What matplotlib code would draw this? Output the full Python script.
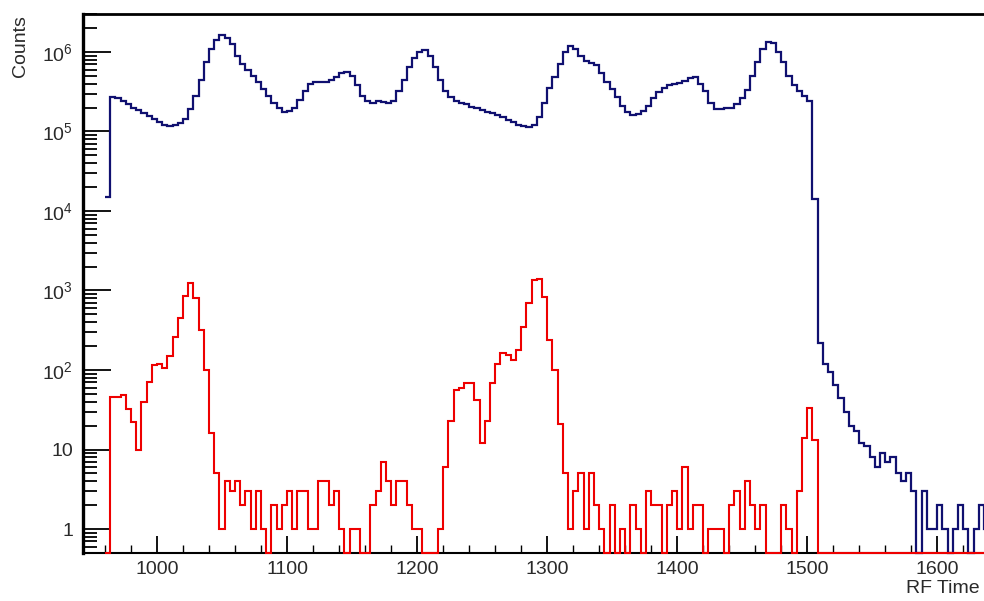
import numpy as np
import matplotlib
matplotlib.use("Agg")
import matplotlib.pyplot as plt
from matplotlib.ticker import FixedLocator, LogLocator, NullFormatter

plt.rcParams['font.family'] = ['Liberation Sans', 'DejaVu Sans']
plt.rcParams['mathtext.fontset'] = 'custom'
plt.rcParams['mathtext.rm'] = 'Liberation Sans'
plt.rcParams['mathtext.default'] = 'regular'

# histogram binning (RF time), 4 units per bin starting at 960
bin_start = 960
bin_width = 4

# all events (blue)
counts_all = [
    1.5e4, 2.7e5, 2.6e5, 2.4e5, 2.2e5, 2.0e5, 1.85e5, 1.7e5, 1.55e5, 1.45e5,
    1.3e5, 1.2e5, 1.17e5, 1.2e5, 1.27e5, 1.45e5, 1.9e5, 2.8e5, 4.5e5, 7.5e5,
    1.1e6, 1.4e6, 1.65e6, 1.5e6, 1.25e6, 9.0e5, 7.0e5, 6.0e5, 5.0e5, 4.2e5,
    3.4e5, 2.8e5, 2.3e5, 1.95e5, 1.75e5, 1.8e5, 2.0e5, 2.5e5, 3.2e5, 3.9e5,
    4.2e5, 4.2e5, 4.2e5, 4.4e5, 4.8e5, 5.4e5, 5.6e5, 5.0e5, 3.8e5, 2.8e5,
    2.4e5, 2.3e5, 2.4e5, 2.35e5, 2.3e5, 2.4e5, 3.2e5, 4.5e5, 6.5e5, 8.5e5,
    1.0e6, 1.05e6, 9.0e5, 6.5e5, 4.5e5, 3.2e5, 2.7e5, 2.4e5, 2.3e5, 2.2e5,
    2.05e5, 1.95e5, 1.85e5, 1.75e5, 1.7e5, 1.6e5, 1.5e5, 1.4e5, 1.3e5, 1.22e5,
    1.17e5, 1.15e5, 1.2e5, 1.5e5, 2.3e5, 3.5e5, 4.8e5, 7.0e5, 1.0e6, 1.2e6,
    1.1e6, 9.0e5, 7.8e5, 7.2e5, 6.9e5, 5.5e5, 4.2e5, 3.4e5, 2.7e5, 2.1e5,
    1.75e5, 1.6e5, 1.65e5, 1.8e5, 2.1e5, 2.6e5, 3.1e5, 3.5e5, 3.8e5, 4.0e5,
    4.1e5, 4.3e5, 4.7e5, 4.8e5, 4.0e5, 3.2e5, 2.3e5, 1.9e5, 1.9e5, 1.95e5,
    2.0e5, 2.2e5, 2.6e5, 3.3e5, 5.0e5, 7.5e5, 1.1e6, 1.35e6, 1.3e6, 1.0e6,
    7.5e5, 5.0e5, 3.8e5, 3.2e5, 2.8e5, 2.4e5, 1.4e4, 220, 120, 95,
    65, 45, 30, 20, 17, 12, 11, 8, 6, 9,
    7, 8, 5, 4, 5, 3, 0, 3, 1, 1,
    2, 1, 0, 1, 2, 1, 0, 1, 2, 1,
    0,
]

# selected events (red)
counts_sel = [
    0, 46, 46, 48, 32, 22, 10, 40, 70, 115,
    118, 105, 150, 260, 450, 850, 1250, 800, 320, 100,
    16, 5, 1, 4, 3, 4, 2, 3, 1, 3,
    1, 0, 2, 1, 2, 3, 1, 3, 3, 1,
    1, 4, 4, 2, 3, 1, 0, 1, 1, 0,
    0, 2, 3, 7, 4, 2, 4, 4, 2, 1,
    1, 0, 0, 0, 1, 6, 23, 56, 60, 68,
    68, 42, 12, 23, 68, 120, 165, 155, 135, 180,
    350, 700, 1350, 1400, 830, 240, 100, 21, 5, 1,
    3, 5, 1, 5, 2, 1, 0, 2, 0, 1,
    0, 2, 1, 0, 3, 2, 2, 0, 2, 3,
    1, 6, 1, 2, 2, 0, 1, 1, 1, 0,
    2, 3, 1, 4, 2, 1, 2, 0, 0, 0,
    2, 1, 0, 3, 14, 33, 13, 0, 0, 0,
    0, 0, 0, 0, 0, 0, 0, 0, 0, 0,
    0, 0, 0, 0, 0, 0, 0, 0, 0, 0,
    0, 0, 0, 0, 0, 0, 0, 0, 0, 0,
    0,
]

x_ticks = [1000, 1100, 1200, 1300, 1400, 1500, 1600]
y_ticks = [1, 10, 1e2, 1e3, 1e4, 1e5, 1e6]
y_ticklabels = ['1', '10', '$10^{2}$', '$10^{3}$', '$10^{4}$', '$10^{5}$', '$10^{6}$']

y_min, y_max = 0.5, 3.0e6

edges = bin_start + bin_width * np.arange(len(counts_all) + 1)
blue = np.array(counts_all, dtype=float)
red = np.array(counts_sel, dtype=float)
# empty bins sit on the bottom of the frame like in ROOT
blue[blue <= 0] = y_min
red[red <= 0] = y_min

fig = plt.figure(figsize=(9.84, 6.01), dpi=100)
ax = fig.add_axes([0.0843, 0.0799, 0.925, 0.8968])

ax.stairs(blue, edges, color='#101070', lw=1.6, baseline=None, zorder=3,
          clip_on=False)
ax.stairs(red, edges, color='#ee0000', lw=1.5, baseline=None, zorder=3,
          clip_on=False)

ax.set_yscale('log')
ax.set_xlim(943, 1643)
ax.set_ylim(y_min, y_max)

ax.xaxis.set_major_locator(FixedLocator(x_ticks))
ax.xaxis.set_minor_locator(FixedLocator(np.arange(960, 1643, 20)))
ax.yaxis.set_major_locator(FixedLocator(y_ticks))
ax.set_yticklabels(y_ticklabels)
ax.yaxis.set_minor_locator(LogLocator(base=10, subs=np.arange(2, 10)))
ax.yaxis.set_minor_formatter(NullFormatter())

ax.tick_params(axis='both', which='both', direction='in', colors='black',
               labelcolor='#2a2a2a', labelsize=14)
ax.tick_params(axis='x', which='major', length=12, width=1.3, pad=6)
ax.tick_params(axis='x', which='minor', length=6, width=1.0)
ax.tick_params(axis='y', which='major', length=20, width=1.3, pad=7)
ax.tick_params(axis='y', which='minor', length=10, width=1.3)

for side in ['left', 'top', 'bottom', 'right']:
    ax.spines[side].set_color('black')
ax.spines['left'].set_linewidth(2.4)
ax.spines['top'].set_linewidth(2.0)
ax.spines['bottom'].set_linewidth(1.5)

fig.text(0.021, 0.975, 'Counts', rotation=90, ha='center', va='top',
         fontsize=14, color='#2a2a2a')
fig.text(0.921, 0.021, 'RF Time', ha='left', va='center',
         fontsize=14, color='#2a2a2a')

fig.savefig('out.png', dpi=100)
